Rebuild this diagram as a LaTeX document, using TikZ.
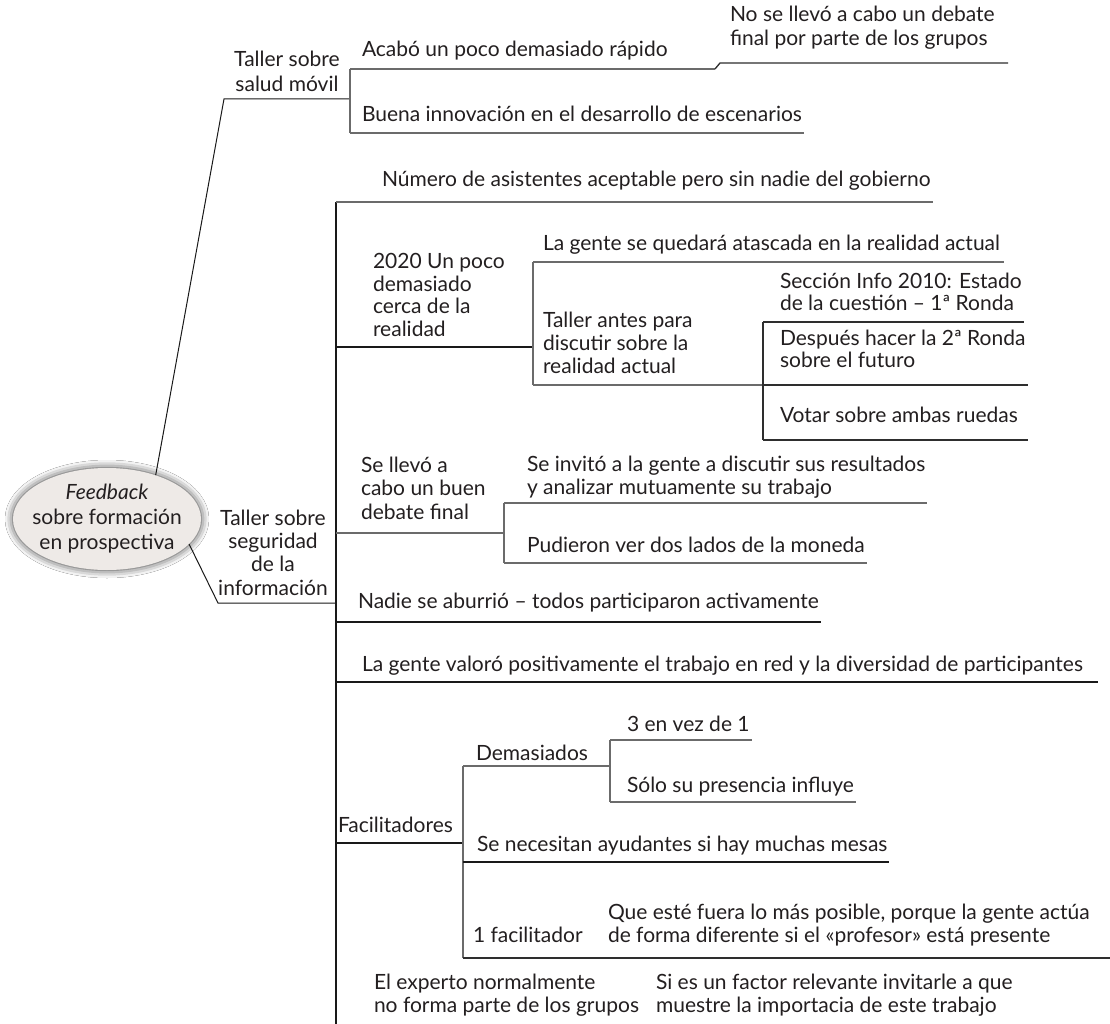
\documentclass[tikz,border=0pt]{standalone}
\usepackage{fontspec}
\setmainfont{Lato}
\usetikzlibrary{shapes.geometric,shadows.blur}
\definecolor{ink}{HTML}{231F20}
\definecolor{rootfill}{HTML}{EEEAE7}
\newcommand{\leftlines}[1]{\begin{tabular}[t]{@{}l@{}}#1\end{tabular}}
\newcommand{\midlines}[1]{\begin{tabular}[t]{@{}c@{}}#1\end{tabular}}
\begin{document}
\begin{tikzpicture}[x=1pt,y=-1pt,
  txt/.style={anchor=base west, inner sep=0pt, outer sep=0pt, text=ink,
    font=\fontsize{21}{23.2}\selectfont},
  ctxt/.style={txt, anchor=base},
  rootshape/.style={ellipse, minimum width=188pt, minimum height=102pt,
    inner sep=0pt, fill=rootfill,
    blur shadow={shadow xshift=0pt, shadow yshift=0pt,
      shadow blur radius=8pt, shadow scale=1.0, shadow opacity=80}},
  stem/.style={draw=black!90, line width=1pt},
  trunk/.style={draw=black!90, line width=1.6pt},
  subline/.style={draw=black!58, line width=1.3pt},
  darkline/.style={draw=black!82, line width=1.3pt},
  mainline/.style={draw=black!90, line width=2pt}]
\useasboundingbox (0,0) rectangle (1110,1024);
\fill[white] (0,0) rectangle (1110,1024);

% central topic
\node[rootshape] (root) at (107,519) {};
\node[ctxt, font=\fontsize{21}{25}\selectfont] (rootlabel) at (107,499)
  {\midlines{\textit{Feedback}\\sobre formación\\en prospectiva}};

% ---- first workshop: mobile health ----
\coordinate (t1bend) at (224,99);
\coordinate (t1hub) at (350,99);
\draw[stem] (root.42) -- (t1bend) -- (t1hub);
\node[ctxt, font=\fontsize{21}{25}\selectfont] (t1) at (287,67)
  {\midlines{Taller sobre\\salud móvil}};
\coordinate (t1top) at (350,69);
\coordinate (t1bot) at (350,133);
\draw[subline] (t1top) -- (t1bot);

\node[txt] (acabo) at (362,57) {Acabó un poco demasiado rápido};
\coordinate (acaboEnd) at (715,69);
\coordinate (kinkTop) at (720,63);
\coordinate (debateEnd) at (1008,63);
\draw[subline] (t1top) -- (acaboEnd);
\draw[darkline] (acaboEnd) -- (kinkTop) -- (debateEnd);
\node[txt] (debate) at (730,22)
  {\leftlines{No se llevó a cabo un debate\\final por parte de los grupos}};

\node[txt] (buena) at (362,122) {Buena innovación en el desarrollo de escenarios};
\draw[subline] (t1bot) -- ([xshift=2pt]t1bot -| buena.east);

% ---- second workshop: information security ----
\coordinate (t2bend) at (218,603);
\coordinate (t2hub) at (336,603);
\draw[stem] (root.-17) -- (t2bend) -- (t2hub);
\node[ctxt, font=\fontsize{21}{23.4}\selectfont] (t2) at (273,525)
  {\midlines{Taller sobre\\seguridad\\de la\\información}};

\coordinate (trunkTop) at (336,202);
\coordinate (trunkEnd) at (336,1024);
\draw[trunk] (trunkTop) -- (trunkEnd);

% attendance
\node[txt] (numero) at (382,187) {Número de asistentes aceptable pero sin nadie del gobierno};
\draw[subline] (trunkTop) -- ([xshift=2pt]trunkTop -| numero.east);

% 2020 too close to reality
\coordinate (j2020) at (336,347);
\coordinate (h2020) at (533,347);
\draw[mainline] (j2020) -- (h2020);
\node[txt, font=\fontsize{21}{22.4}\selectfont] (n2020) at (373,269)
  {\leftlines{2020 Un poco\\demasiado\\cerca de la\\realidad}};
\coordinate (v2020top) at (533,262);
\coordinate (v2020bot) at (533,385);
\draw[subline] (v2020top) -- (v2020bot);
\node[txt] (atasco) at (543,251) {La gente se quedará atascada en la realidad actual};
\draw[subline] (v2020top) -- ([xshift=4pt]v2020top -| atasco.east);
\node[txt, font=\fontsize{21}{23.3}\selectfont] (antes) at (543,327)
  {\leftlines{Taller antes para\\discutir sobre la\\realidad actual}};
\coordinate (vAntesTop) at (763,322);
\coordinate (hAntes) at (763,385);
\coordinate (vAntesBot) at (763,440);
\draw[subline] (v2020bot) -- (hAntes);
\draw[darkline] (vAntesTop) -- (vAntesBot);
\node[txt, font=\fontsize{21}{22}\selectfont] (seccion) at (780,288)
  {\leftlines{Sección Info 2010: Estado\\de la cuestión – 1ª Ronda}};
\coordinate (seccionEnd) at (1024,322);
\draw[darkline] (vAntesTop) -- (seccionEnd);
\node[txt, font=\fontsize{21}{22}\selectfont] (despues) at (780,345)
  {\leftlines{Después hacer la 2ª Ronda\\sobre el futuro}};
\coordinate (despuesEnd) at (1028,385);
\draw[darkline] (hAntes) -- (despuesEnd);
\node[txt] (votar) at (780,422) {Votar sobre ambas ruedas};
\coordinate (votarEnd) at (1028,440);
\draw[darkline] (vAntesBot) -- (votarEnd);

% final debate
\coordinate (jDeb) at (336,533);
\coordinate (hDeb) at (504,533);
\draw[subline] (jDeb) -- (hDeb);
\node[txt, font=\fontsize{21}{23.5}\selectfont] (buenDeb) at (361,472)
  {\leftlines{Se llevó a\\cabo un buen\\debate final}};
\coordinate (vDebTop) at (504,503);
\coordinate (vDebBot) at (504,563);
\draw[subline] (vDebTop) -- (vDebBot);
\node[txt] (invito) at (527,471)
  {\leftlines{Se invitó a la gente a discutir sus resultados\\y analizar mutuamente su trabajo}};
\draw[subline] (vDebTop) -- ([xshift=2pt]vDebTop -| invito.east);
\node[txt] (moneda) at (527,552) {Pudieron ver dos lados de la moneda};
\draw[subline] (vDebBot) -- ([xshift=2pt]vDebBot -| moneda.east);

% participation
\coordinate (jNadie) at (336,622);
\node[txt] (nadie) at (358,608) {Nadie se aburrió – todos participaron activamente};
\draw[mainline] (jNadie) -- ([xshift=2pt]jNadie -| nadie.east);

% networking
\coordinate (jRed) at (336,682);
\coordinate (redEnd) at (1098,682);
\node[txt] (red) at (362,671)
  {La gente valoró positivamente el trabajo en red y la diversidad de participantes};
\draw[mainline] (jRed) -- (redEnd);

% facilitators
\coordinate (jFac) at (336,843);
\coordinate (hFac) at (463,843);
\draw[mainline] (jFac) -- (hFac);
\node[txt] (facil) at (338,832) {Facilitadores};
\coordinate (vFacTop) at (463,766);
\coordinate (vFacBot) at (463,958);
\draw[subline] (vFacTop) -- (vFacBot);
\node[txt] (demas) at (476,760) {Demasiados};
\coordinate (hDemas) at (610,766);
\draw[subline] (vFacTop) -- (hDemas);
\coordinate (vDemTop) at (610,740);
\coordinate (vDemBot) at (610,802);
\draw[subline] (vDemTop) -- (vDemBot);
\node[txt] (tres) at (627,731) {3 en vez de 1};
\draw[subline] (vDemTop) -- ([xshift=2pt]vDemTop -| tres.east);
\node[txt] (solo) at (627,792) {Sólo su presencia influye};
\draw[subline] (vDemBot) -- ([xshift=2pt]vDemBot -| solo.east);
\coordinate (jAyud) at (463,862);
\node[txt] (ayud) at (477,851) {Se necesitan ayudantes si hay muchas mesas};
\draw[mainline] (jAyud) -- ([xshift=2pt]jAyud -| ayud.east);
\node[txt] (uno) at (473,942) {1 facilitador};
\node[txt] (fuera) at (608,919)
  {\leftlines{Que esté fuera lo más posible, porque la gente actúa\\de forma diferente si el «profesor» está presente}};
\coordinate (unoEnd) at (1110,958);
\draw[darkline] (vFacBot) -- (unoEnd);

% expert
\node[txt] (experto) at (374,989)
  {\leftlines{El experto normalmente\\no forma parte de los grupos}};
\node[txt] (factor) at (656,989)
  {\leftlines{Si es un factor relevante invitarle a que\\muestre la importacia de este trabajo}};
\end{tikzpicture}
\end{document}
